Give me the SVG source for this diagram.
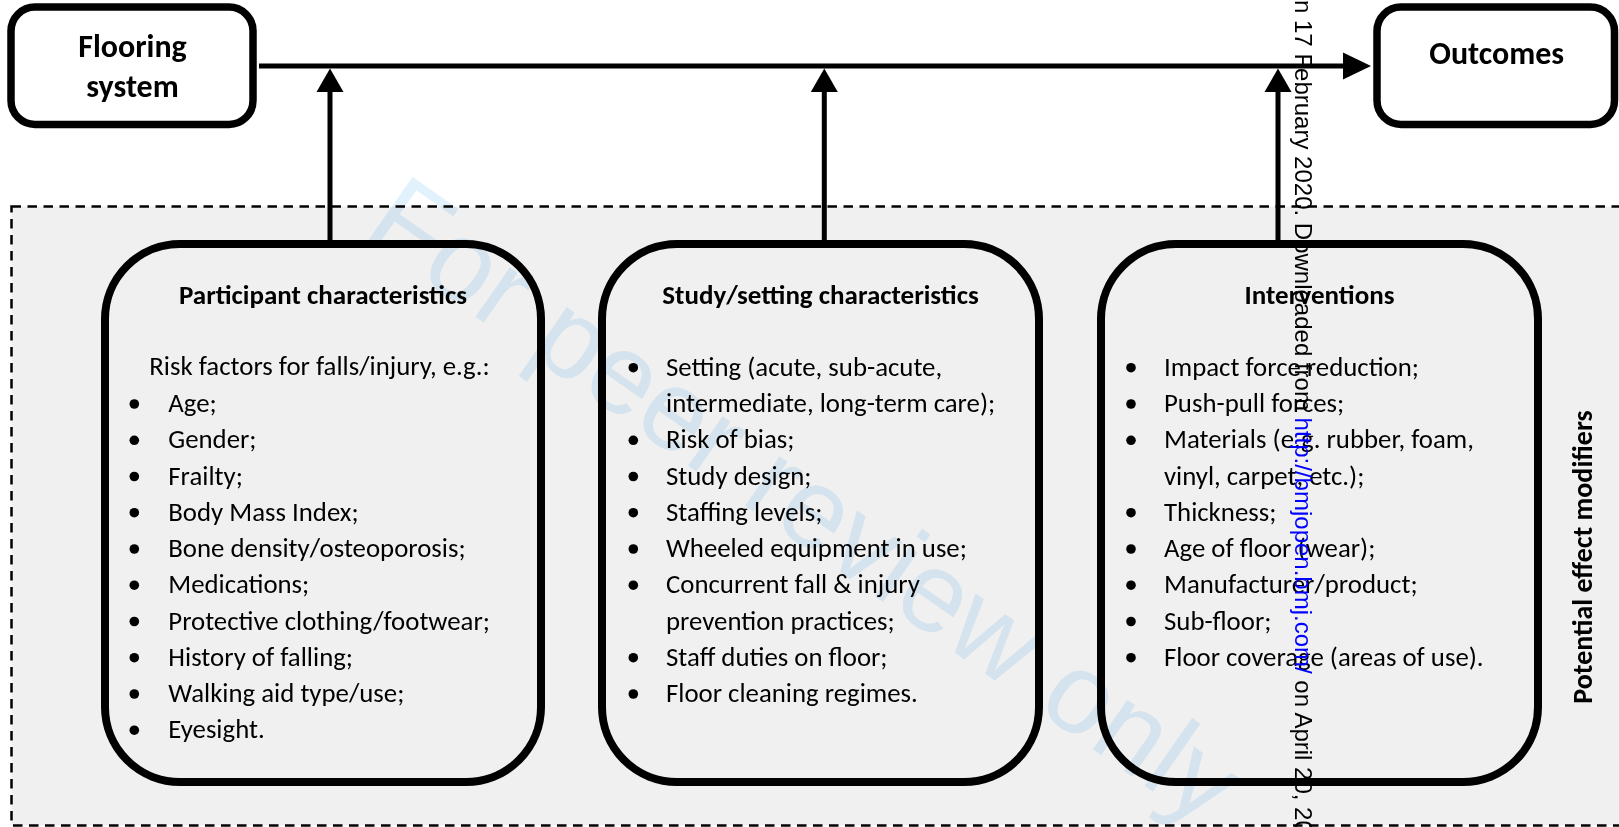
<svg xmlns="http://www.w3.org/2000/svg" width="1619" height="827" viewBox="0 0 1619 827">
<style>
.tbox{fill:#fff;stroke:#000;stroke-width:7.5}
.box{fill:#f0f0f0;stroke:#000;stroke-width:8}
.t{font-family:Carlito,Lato,'Liberation Sans',sans-serif;font-size:26.8px;fill:#000}
.h{font-weight:bold;text-anchor:middle;font-size:27px}
.pm{font-size:28px}
.title{font-family:Carlito,Lato,'Liberation Sans',sans-serif;font-size:32px;font-weight:bold;text-anchor:middle;fill:#000}
.ln{stroke:#000;stroke-width:5;fill:none}
.ah{fill:#000}
.wm{font-family:'Liberation Sans',Arial,sans-serif;font-size:114px;fill:#e2f2fc;mix-blend-mode:multiply}
.wv{font-family:'Liberation Sans',Arial,sans-serif;font-size:24px;fill:#000}
</style>
<rect x="0" y="0" width="1619" height="827" fill="#fff"/>
<rect id="modifiers-region" x="11.5" y="206.5" width="1640" height="619" fill="#f0f0f0" stroke="#000" stroke-width="2.5" stroke-dasharray="9.5 6.5"/>

<g id="connectors">
  <line class="ln" x1="259" y1="66" x2="1346" y2="66"/>
  <polygon class="ah" points="1371,66 1343,52.5 1343,79.5"/>
  <line class="ln" x1="330" y1="241" x2="330" y2="90"/>
  <polygon class="ah" points="330,68.5 316.5,92 343.5,92"/>
  <line class="ln" x1="824.3" y1="241" x2="824.3" y2="90"/>
  <polygon class="ah" points="824.3,68.5 810.8,92 837.8,92"/>
  <line class="ln" x1="1278" y1="241" x2="1278" y2="90"/>
  <polygon class="ah" points="1278,68.5 1264.5,92 1291.5,92"/>
</g>

<g id="flooring-system">
  <rect class="tbox" x="11" y="7" width="242" height="117.5" rx="24"/>
  <text class="title" x="132.5" y="57.3">Flooring</text>
  <text class="title" x="132.5" y="96.7">system</text>
</g>

<g id="outcomes">
  <rect class="tbox" x="1377" y="7" width="237.5" height="117.5" rx="24"/>
  <text class="title" x="1496.7" y="64">Outcomes</text>
</g>

<g id="participant-characteristics">
  <rect class="box" x="105" y="244" width="436" height="538" rx="75"/>
  <text class="t h" x="323" y="304">Participant characteristics</text>
  <text class="t" x="149.3" y="374.5">Risk factors for falls/injury, e.g.:</text>
  <g class="ah">
    <circle cx="134.3" cy="404" r="4.8"/><circle cx="134.3" cy="440.3" r="4.8"/><circle cx="134.3" cy="476.5" r="4.8"/><circle cx="134.3" cy="512.7" r="4.8"/><circle cx="134.3" cy="549" r="4.8"/><circle cx="134.3" cy="585.2" r="4.8"/><circle cx="134.3" cy="621.5" r="4.8"/><circle cx="134.3" cy="657.7" r="4.8"/><circle cx="134.3" cy="694" r="4.8"/><circle cx="134.3" cy="730.2" r="4.8"/>
  </g>
  <text class="t" x="168.3" y="412">Age;</text>
  <text class="t" x="168.3" y="448.3">Gender;</text>
  <text class="t" x="168.3" y="484.5">Frailty;</text>
  <text class="t" x="168.3" y="520.7">Body Mass Index;</text>
  <text class="t" x="168.3" y="557">Bone density/osteoporosis;</text>
  <text class="t" x="168.3" y="593.2">Medications;</text>
  <text class="t" x="168.3" y="629.5">Protective clothing/footwear;</text>
  <text class="t" x="168.3" y="665.7">History of falling;</text>
  <text class="t" x="168.3" y="702">Walking aid type/use;</text>
  <text class="t" x="168.3" y="738.2">Eyesight.</text>
</g>

<g id="study-setting-characteristics">
  <rect class="box" x="602" y="244" width="437" height="538" rx="75"/>
  <text class="t h" x="820.5" y="304">Study/setting characteristics</text>
  <g class="ah">
    <circle cx="633.3" cy="367.7" r="4.8"/><circle cx="633.3" cy="440.3" r="4.8"/><circle cx="633.3" cy="476.5" r="4.8"/><circle cx="633.3" cy="512.7" r="4.8"/><circle cx="633.3" cy="549" r="4.8"/><circle cx="633.3" cy="585.2" r="4.8"/><circle cx="633.3" cy="657.7" r="4.8"/><circle cx="633.3" cy="694" r="4.8"/>
  </g>
  <text class="t" x="666" y="375.7">Setting (acute, sub-acute,</text>
  <text class="t" x="666" y="412">intermediate, long-term care);</text>
  <text class="t" x="666" y="448.3">Risk of bias;</text>
  <text class="t" x="666" y="484.5">Study design;</text>
  <text class="t" x="666" y="520.7">Staffing levels;</text>
  <text class="t" x="666" y="557">Wheeled equipment in use;</text>
  <text class="t" x="666" y="593.2">Concurrent fall &amp; injury</text>
  <text class="t" x="666" y="629.5">prevention practices;</text>
  <text class="t" x="666" y="665.7">Staff duties on floor;</text>
  <text class="t" x="666" y="702">Floor cleaning regimes.</text>
</g>

<g id="interventions">
  <rect class="box" x="1101" y="244" width="437" height="538" rx="75"/>
  <text class="t h" x="1319.5" y="304">Interventions</text>
  <g class="ah">
    <circle cx="1131" cy="367.7" r="4.8"/><circle cx="1131" cy="404" r="4.8"/><circle cx="1131" cy="440.3" r="4.8"/><circle cx="1131" cy="512.7" r="4.8"/><circle cx="1131" cy="549" r="4.8"/><circle cx="1131" cy="585.2" r="4.8"/><circle cx="1131" cy="621.5" r="4.8"/><circle cx="1131" cy="657.7" r="4.8"/>
  </g>
  <text class="t" x="1164" y="375.7">Impact force reduction;</text>
  <text class="t" x="1164" y="412">Push-pull forces;</text>
  <text class="t" x="1164" y="448.3">Materials (e.g. rubber, foam,</text>
  <text class="t" x="1164" y="484.5">vinyl, carpet, etc.);</text>
  <text class="t" x="1164" y="520.7">Thickness;</text>
  <text class="t" x="1164" y="557">Age of floor (wear);</text>
  <text class="t" x="1164" y="593.2">Manufacturer/product;</text>
  <text class="t" x="1164" y="629.5">Sub-floor;</text>
  <text class="t" x="1164" y="665.7">Floor coverage (areas of use).</text>
</g>

<g id="modifiers-label">
  <text class="t h pm" transform="translate(1592,557) rotate(-90)">Potential effect modifiers</text>
</g>

<text class="wm" transform="translate(360,236) rotate(35)">For peer review only</text>
<text class="wv" transform="translate(1295,0) rotate(90)">n 17 February 2020. Downloaded from <tspan fill="#0000ff">http://bmjopen.bmj.com/</tspan> on April 20, 2024</text>
</svg>
